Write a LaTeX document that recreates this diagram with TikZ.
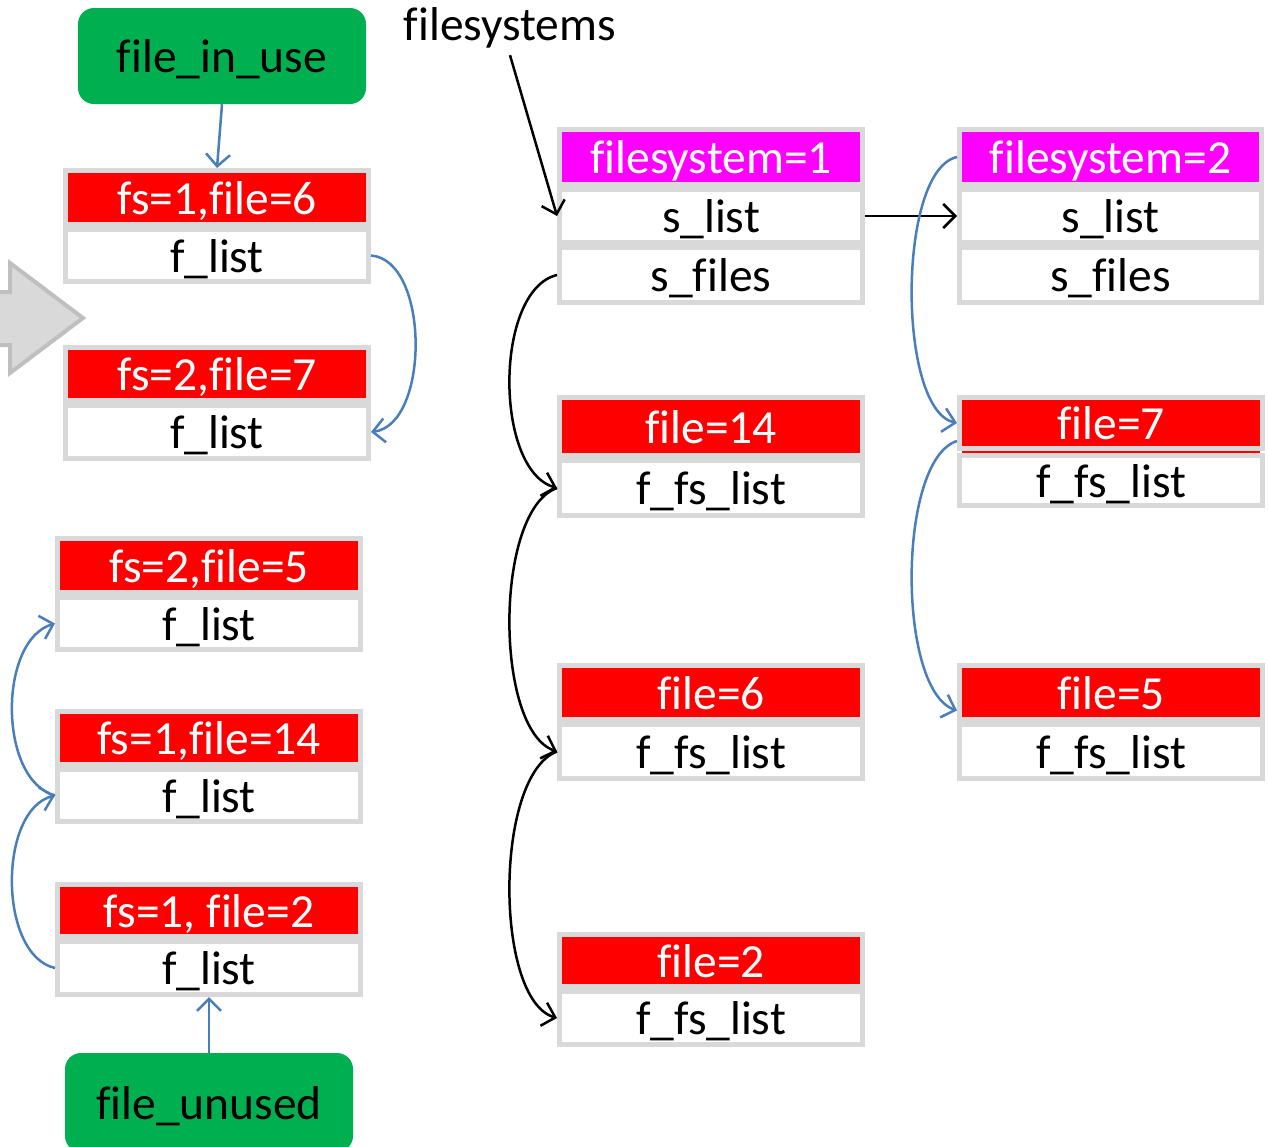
\documentclass[tikz,border=0pt]{standalone}
\usepackage{fontspec}
\setmainfont{Carlito}[Ligatures=CommonOff]
\usetikzlibrary{arrows.meta,calc}

\definecolor{cellred}{RGB}{255,0,0}
\definecolor{cellmag}{RGB}{255,0,255}
\definecolor{okgreen}{RGB}{0,176,80}
\definecolor{framegray}{RGB}{217,217,217}
\definecolor{linkblue}{RGB}{74,126,187}
\definecolor{bigarrowfill}{RGB}{217,217,217}
\definecolor{bigarrowline}{RGB}{191,191,191}

% one field of a record: name, x1, y1, x2, y2 (outer edges), style, text
\newcommand\recordcell[7]{%
  \node[cellbox,#6,minimum width={#4-#2-5},minimum height={#5-#3-5}]
    (#1) at ({(#2+#4)/2},{(#3+#5)/2}) {#7};}

\tikzset{
  bigfont/.style={font=\fontsize{47.5}{52}\selectfont},
  cellbox/.style={draw=framegray, line width=5pt, inner sep=0pt, bigfont,
    text height=38pt, text depth=5pt},
  headcell/.style={fill=cellred, text=white},
  fshead/.style={fill=cellmag, text=white},
  fieldcell/.style={fill=white, text=black},
  anchorbox/.style={fill=okgreen, rounded corners=16pt, inner sep=0pt, bigfont,
    text height=38pt, text depth=5pt},
  bluelink/.style={draw=linkblue, line width=2.5pt,
    -{Straight Barb[length=12pt,width=24pt]}},
  blacklink/.style={draw=black, line width=2.5pt,
    -{Straight Barb[length=12pt,width=24pt]}},
}

\begin{document}
\begin{tikzpicture}[x=1pt,y=-1pt]
\useasboundingbox (0,0) rectangle (1269,1146);
\clip (0,0) rectangle (1269,1146);

% big grey block arrow, cut by the left edge
\draw[fill=bigarrowfill, draw=bigarrowline, line width=4pt, line join=miter]
  (-20,292) -- (10,292) -- (10,263) -- (83,318) -- (10,373) -- (10,345) -- (-20,345) -- cycle;

% list heads
\node[anchorbox, minimum width=288, minimum height=96] (inuse) at (222,56) {file\_in\_use};
\node[anchorbox, minimum width=288, minimum height=99] (unused) at (209,1102.5) {file\_unused};

% per-file records on the left
\recordcell{Ah}{63}{168}{371}{227}{headcell}{fs=1,file=6}
\recordcell{Ab}{63}{227}{371}{284}{fieldcell}{f\_list}
\recordcell{Bh}{63}{345}{371}{403}{headcell}{fs=2,file=7}
\recordcell{Bb}{63}{403}{371}{461}{fieldcell}{f\_list}
\recordcell{Ch}{55}{536}{363}{595}{headcell}{fs=2,file=5}
\recordcell{Cb}{55}{595}{363}{652}{fieldcell}{f\_list}
\recordcell{Dh}{55}{709}{363}{767}{headcell}{fs=1,file=14}
\recordcell{Db}{55}{767}{363}{824}{fieldcell}{f\_list}
\recordcell{Eh}{55}{882}{363}{939}{headcell}{fs=1, file=2}
\recordcell{Eb}{55}{939}{363}{997}{fieldcell}{f\_list}

% filesystem 1 and its files
\recordcell{Sh}{557}{127}{865}{187}{fshead}{filesystem=1}
\recordcell{Sl}{557}{187}{865}{245}{fieldcell}{s\_list}
\recordcell{Sf}{557}{245}{865}{305}{fieldcell}{s\_files}
\recordcell{F14h}{557}{395}{865}{458}{headcell}{file=14}
\recordcell{F14b}{557}{458}{865}{518}{fieldcell}{f\_fs\_list}
\recordcell{F6h}{557}{663}{865}{722}{headcell}{file=6}
\recordcell{F6b}{557}{722}{865}{781}{fieldcell}{f\_fs\_list}
\recordcell{F2h}{557}{932}{865}{989}{headcell}{file=2}
\recordcell{F2b}{557}{989}{865}{1047}{fieldcell}{f\_fs\_list}

% filesystem 2 and its files
\recordcell{Th}{957}{127}{1264}{187}{fshead}{filesystem=2}
\recordcell{Tl}{957}{187}{1264}{245}{fieldcell}{s\_list}
\recordcell{Tf}{957}{245}{1264}{305}{fieldcell}{s\_files}
\recordcell{F7h}{957}{395}{1265}{451}{headcell}{file=7}
\recordcell{F7b}{957}{453}{1265}{508}{fieldcell}{f\_fs\_list}
\draw[cellred, line width=2pt]
  ([xshift=5pt,yshift=-1pt]F7h.south west) -- ([xshift=-5pt,yshift=-1pt]F7h.south east);
\recordcell{F5h}{957}{663}{1265}{722}{headcell}{file=5}
\recordcell{F5b}{957}{722}{1265}{781}{fieldcell}{f\_fs\_list}

% global list label
\node[bigfont, anchor=base] (fslabel) at (510,40) {filesystems};

% file_in_use / file_unused chains
\draw[bluelink] (inuse.south) -- (Ah.north);
\draw[bluelink] (Ab.east) .. controls (430,260) and (430,425) .. (Bb.east);
\draw[bluelink] (unused.north) -- (Eb.south);
\draw[bluelink] (Eb.west) .. controls (-2,955) and (-2,810) .. (Db.west);
\draw[bluelink] (Db.west) .. controls (-2,780) and (-2,640) .. (Cb.west);

% filesystem list
\draw[blacklink] ([yshift=-4pt]fslabel.south) -- (Sl.west);
\draw[blacklink] (Sl.east) -- (Tl.west);

% files of filesystem 1
\draw[blacklink] (Sf.west) .. controls (494,290) and (494,470) .. (F14b.west);
\draw[blacklink] (F14b.west) .. controls (494,510) and (494,730) .. (F6b.west);
\draw[blacklink] (F6b.west) .. controls (494,775) and (494,1000) .. (F2b.west);

% files of filesystem 2
\draw[bluelink] (Th.west) .. controls (897,170) and (897,410) .. (F7h.west);
\draw[bluelink] ([yshift=-18pt]F7h.west) .. controls (897,460) and (897,690) .. ([yshift=-18pt]F5h.west);
\end{tikzpicture}
\end{document}
